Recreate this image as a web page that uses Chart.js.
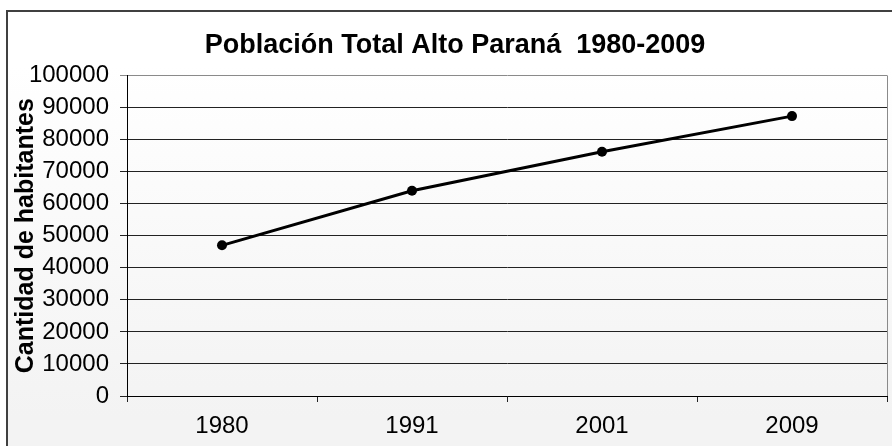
<!DOCTYPE html>
<html lang="es">
<head>
<meta charset="utf-8">
<title>Población Total Alto Paraná 1980-2009</title>
<script src="https://cdn.jsdelivr.net/npm/chart.js@4.4.1/dist/chart.umd.min.js"></script>
<style>
    html, body {
        margin: 0;
        padding: 0;
        width: 892px;
        height: 446px;
        overflow: hidden;
        background: #ffffff;
    }

    .chart-frame {
        position: absolute;
        left: 6px;
        top: 10px;
        width: 920px;
        height: 460px;
        border-left: 2px solid #404040;
        border-top: 2px solid #404040;
        background: linear-gradient(to bottom, #ffffff 12%, #f3f3f3 88%);
    }

    #populationChart {
        position: absolute;
        left: 0;
        top: 0;
    }
</style>
</head>
<body>
<div class="chart-frame"></div>
<canvas id="populationChart" width="892" height="446"></canvas>

<script>
"use strict";

const years = ["1980", "1991", "2001", "2009"];
const population = [47000, 64000, 76200, 87300];
const yTicks = { min: 0, max: 100000, step: 10000 };

const chartTitle = "Población Total Alto Paraná  1980-2009";
const yAxisTitle = "Cantidad de habitantes";

const fontFamily = "'Liberation Sans', Arial, sans-serif";

let populationChart;

document.addEventListener("DOMContentLoaded", () => {
    initializeChart();
});

// gray outline on the right side of the plot area
const plotBorder = {
    id: "plotBorder",
    afterDraw(chart) {
        const { ctx, chartArea } = chart;
        ctx.save();
        ctx.strokeStyle = "#8a8a8a";
        ctx.lineWidth = 1;
        ctx.beginPath();
        ctx.moveTo(Math.round(chartArea.right) + 0.5, chartArea.top);
        ctx.lineTo(Math.round(chartArea.right) + 0.5, chartArea.bottom);
        ctx.stroke();
        ctx.restore();
    }
};

function initializeChart() {
    const ctx = document.getElementById("populationChart");

    if (!ctx) {
        console.warn("populationChart canvas not found.");
        return;
    }

    populationChart = new Chart(ctx, {
        type: "line",
        data: {
            labels: years,
            datasets: [
                {
                    label: "Población",
                    data: population,
                    borderColor: "#000000",
                    backgroundColor: "#000000",
                    borderWidth: 3,
                    tension: 0,
                    pointRadius: 5,
                    pointBorderWidth: 0,
                    pointBackgroundColor: "#000000"
                }
            ]
        },
        options: {
            responsive: false,
            animation: false,
            layout: {
                padding: { left: 22, right: 4, top: 0, bottom: 0 }
            },
            plugins: {
                legend: { display: false },
                tooltip: { enabled: false },
                title: {
                    display: true,
                    text: chartTitle,
                    color: "#000000",
                    font: { family: fontFamily, size: 27, weight: "bold" },
                    padding: { top: 29, bottom: 14 }
                }
            },
            scales: {
                x: {
                    offset: true,
                    grid: {
                        offset: true,
                        drawOnChartArea: false,
                        drawTicks: true,
                        tickLength: 6,
                        color: "#222222"
                    },
                    border: { color: "#000000", width: 1 },
                    ticks: {
                        color: "#000000",
                        maxRotation: 0,
                        padding: 10,
                        font: { family: fontFamily, size: 24 }
                    },
                    afterFit(scale) {
                        scale.height = 50;
                    }
                },
                y: {
                    min: yTicks.min,
                    max: yTicks.max,
                    grid: {
                        tickLength: 7,
                        color: c => (c.tick && c.tick.value === yTicks.max ? "#8a8a8a" : "#222222")
                    },
                    border: { color: "#000000", width: 1 },
                    ticks: {
                        stepSize: yTicks.step,
                        color: "#000000",
                        padding: 11,
                        font: { family: fontFamily, size: 24 },
                        callback: value => String(value)
                    },
                    title: {
                        display: true,
                        text: yAxisTitle,
                        color: "#000000",
                        font: { family: fontFamily, size: 25, weight: "bold" },
                        padding: { top: -11, bottom: 0 }
                    },
                    afterFit(scale) {
                        scale.width = 105;
                    }
                }
            }
        },
        plugins: [plotBorder]
    });
}
</script>
</body>
</html>
